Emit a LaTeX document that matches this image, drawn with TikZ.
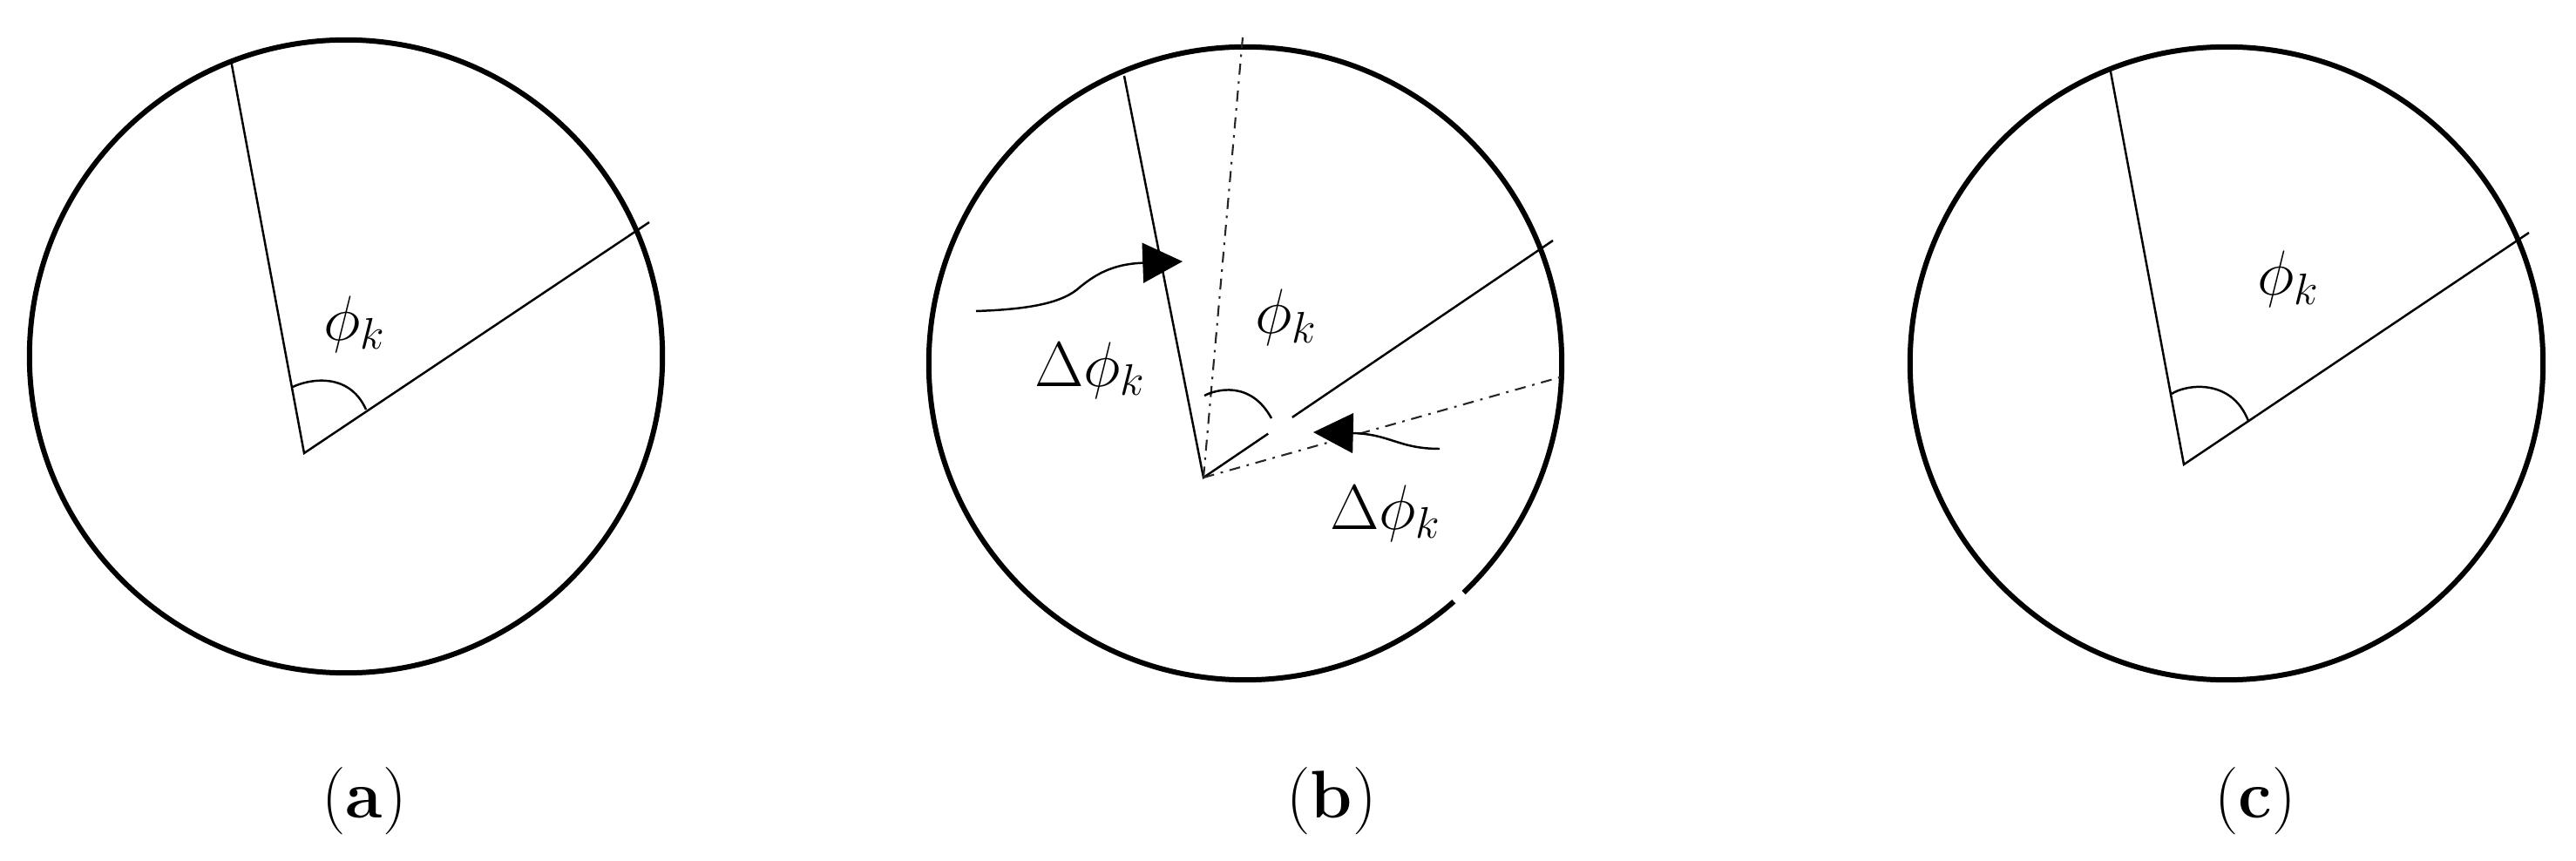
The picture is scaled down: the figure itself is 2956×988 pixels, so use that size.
\documentclass[tikz,border=0pt]{standalone}
\usetikzlibrary{arrows.meta,calc}
\begin{document}
\begin{tikzpicture}[x=0.01cm,y=-0.01cm,
  rim/.style={line width=1.7pt},
  ray/.style={line width=0.7pt},
  dashray/.style={line width=0.6pt, black!85, dash pattern=on 3.6pt off 2.2pt on 0.8pt off 2.2pt},
  anglemark/.style={line width=0.7pt},
  pointer/.style={line width=0.7pt, -{Triangle[length=13pt,width=13pt]}},
  lbl/.style={font=\fontsize{22}{26}\selectfont, anchor=base, inner sep=0pt},
  capt/.style={font=\fontsize{22}{26}\selectfont, anchor=base, inner sep=0pt}]
\useasboundingbox (0,0) rectangle (2956,988);

% ---------- (a) ----------
\coordinate (ca) at (397,409);
\draw[rim] (ca) circle[radius=3.63cm];
\coordinate (oa) at (349,520);
\coordinate (ta) at (265,69);
\coordinate (ea) at (745,255);
\draw[ray] (ta) -- (oa) -- (ea);
\draw[anglemark] (336,444) .. controls (352,436) and (400,425) .. (420,470);
\node[lbl] (la) at (407,390) {$\phi_k$};
\node[capt] (capa) at (418,938) {(\textbf{a})};

% ---------- (b) ----------
\coordinate (cb) at (1429,417);
\draw[rim] (cb) circle[radius=3.63cm];
\draw[white, line width=3.6pt] (1668.2,690.0) -- (1679.2,679.8);
\coordinate (ob) at (1381,548);
\coordinate (tb) at (1290,87);
\coordinate (eb) at (1782,276);
\coordinate (db1) at (1426,43);
\coordinate (db2) at (1797,431);
\draw[ray] (tb) -- (ob) -- ($(ob)!0.185!(eb)$);
\draw[ray] ($(ob)!0.254!(eb)$) -- (eb);
\draw[dashray] (ob) -- (db1);
\draw[dashray] (ob) -- (db2);
\draw[anglemark] (1382,454) .. controls (1395,447) and (1435,436) .. (1459,480);
\node[lbl] (lb) at (1476,383) {$\phi_k$};
\node[lbl] (lb1) at (1251,443) {$\Delta\phi_k$};
\node[lbl] (lb2) at (1590,607) {$\Delta\phi_k$};
\coordinate (s1) at (1120,357);
\coordinate (h1) at (1357,300);
\draw[pointer] (s1) .. controls (1180,355) and (1215,348) .. (1235,333)
  .. controls (1255,316) and (1275,303) .. (h1);
\coordinate (s2) at (1652,515);
\coordinate (h2) at (1507,496);
\draw[pointer] (s2) .. controls (1605,515) and (1595,498) .. (h2);
\node[capt] (capb) at (1528,938) {(\textbf{b})};

% ---------- (c) ----------
\coordinate (cc) at (2555,417);
\draw[rim] (cc) circle[radius=3.63cm];
\coordinate (oc) at (2506,533);
\coordinate (tc) at (2421,77);
\coordinate (ec) at (2902,267);
\draw[ray] (tc) -- (oc) -- (ec);
\draw[anglemark] (2492,452) .. controls (2506,442) and (2560,432) .. (2580,483);
\node[lbl] (lc) at (2626,339) {$\phi_k$};
\node[capt] (capc) at (2588,938) {(\textbf{c})};
\end{tikzpicture}
\end{document}
